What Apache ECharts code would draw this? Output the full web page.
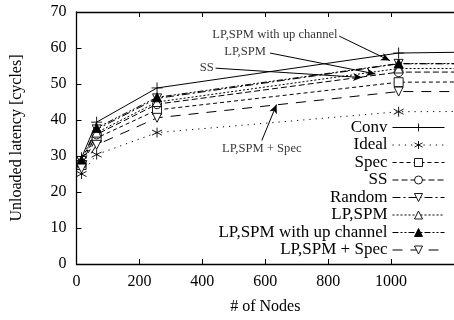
<!DOCTYPE html>
<html>
<head>
<meta charset="utf-8">
<script src="https://cdn.jsdelivr.net/npm/echarts@6/dist/echarts.min.js"></script>
<style>html,body{margin:0;padding:0;background:#fff}#c{width:454px;height:320px}</style>
</head>
<body>
<div id="c"></div>
<script>
// ---- data ----
const nodes = [16, 64, 256, 1024, 2048];
const seriesNames = ['Conv', 'Ideal', 'Spec', 'SS', 'Random', 'LP,SPM', 'LP,SPM with up channel', 'LP,SPM + Spec'];
const conv    = [29.5, 39.4, 48.9, 58.6, 59.8];
const ideal   = [25.0, 30.4, 36.5, 42.3, 42.6];
const spec    = [27.5, 35.0, 42.8, 50.5, 50.8];
const ss      = [28.0, 36.0, 44.4, 53.3, 53.4];
const random  = [28.6, 37.4, 46.0, 55.6, 55.6];
const lpspm   = [28.2, 36.5, 45.0, 54.3, 54.4];
const upChan  = [28.9, 37.8, 46.3, 55.7, 55.6];
const lpSpec  = [26.5, 33.1, 40.6, 47.9, 47.9];
const xTicks = [0, 200, 400, 600, 800, 1000, 1200];
const yTicks = [0, 10, 20, 30, 40, 50, 60, 70];
// annotations: [text, textX, textY, arrowFrom, arrowTo]
const notes = [
  ['LP,SPM with up channel', 830, 63.6, [835, 63.3], [996, 56.5]],
  ['LP,SPM', 602, 58.9, [615, 58.6], [950, 52.8]],
  ['SS', 436, 54.4, [442, 54.4], [908, 51.8]],
];
const noteBelow = ['LP,SPM + Spec', 589, 31.9, [589, 34.3], [636, 44.3]];

const valuesList = [conv, ideal, spec, ss, random, lpspm, upChan, lpSpec];
const FONT = '"Liberation Serif", "DejaVu Serif", serif';
const plus = 'path://M0,-5 L0,5 M-5,0 L5,0';
const star = 'path://M0,-5 L0,5 M-4.5,-2.6 L4.5,2.6 M-4.5,2.6 L4.5,-2.6';
const square = 'path://M-5,-5 L5,-5 L5,5 L-5,5 Z';
const circle = 'path://M-5,0 A5,5 0 1,0 5,0 A5,5 0 1,0 -5,0 Z';
const triUp = 'path://M0,-5 L5,4 L-5,4 Z';
const triDown = 'path://M0,5 L5,-4 L-5,-4 Z';
const styles = [
  {symbol: plus, size: 11, dash: 'solid', fill: '#000'},
  {symbol: star, size: 10, dash: [1.2, 5], fill: '#000'},
  {symbol: square, size: 9, dash: [4, 3], fill: '#fff'},
  {symbol: circle, size: 9, dash: [6, 3], fill: '#fff'},
  {symbol: triDown, size: 9, dash: [8, 3, 2, 3], fill: '#fff'},
  {symbol: triUp, size: 9, dash: [2, 2], fill: '#fff'},
  {symbol: triUp, size: 9, dash: [6, 2, 2, 2, 2, 2], fill: '#000'},
  {symbol: triDown, size: 9, dash: [10, 8], fill: '#fff'},
];

const series = seriesNames.map((name, i) => ({
  name: name,
  type: 'line',
  data: nodes.map((n, j) => [n, valuesList[i][j]]),
  symbol: styles[i].symbol,
  symbolSize: styles[i].size,
  showAllSymbol: true,
  lineStyle: {color: '#000', width: 1, type: styles[i].dash},
  itemStyle: {color: styles[i].fill, borderColor: '#000', borderWidth: 0.9},
  emphasis: {disabled: true},
  animation: false,
  z: 3
}));

// annotation text series
series.push({
  type: 'scatter',
  name: 'notes',
  symbolSize: 0,
  data: notes.map(n => ({value: [n[1], n[2]], name: n[0]})),
  label: {show: true, position: 'left', distance: 0, formatter: p => p.name,
          fontFamily: FONT, fontSize: 12.6, color: '#000'},
  markLine: {
    silent: true,
    symbol: ['none', 'arrow'],
    symbolSize: [6, 9],
    lineStyle: {color: '#000', width: 1, type: 'solid'},
    label: {show: false},
    data: notes.concat([noteBelow]).map(n => [{coord: n[3]}, {coord: n[4]}])
  },
  animation: false,
  z: 5
});
series.push({
  type: 'scatter',
  name: 'notes2',
  symbolSize: 0,
  data: [{value: [noteBelow[1], noteBelow[2]], name: noteBelow[0]}],
  label: {show: true, position: 'inside', formatter: p => p.name,
          fontFamily: FONT, fontSize: 12.6, color: '#000'},
  animation: false,
  z: 5
});

const chart = echarts.init(document.getElementById('c'), null, {renderer: 'canvas'});
const axisLine = {show: true, lineStyle: {color: '#000', width: 1.3}};
const plain = v => String(v);
chart.setOption({
  backgroundColor: '#fff',
  animation: false,
  grid: {left: 76.5, right: -6.5, top: 12, bottom: 56, containLabel: false},
  legend: {
    data: seriesNames,
    orient: 'vertical',
    align: 'right',
    right: 9,
    top: 119,
    padding: 0,
    itemGap: 0.5,
    itemWidth: 52,
    itemHeight: 10,
    selectedMode: false,
    lineStyle: {width: 1},
    itemStyle: {borderWidth: 0.9},
    textStyle: {fontFamily: FONT, fontSize: 17, lineHeight: 17, color: '#000'}
  },
  xAxis: [{
    type: 'value', min: xTicks[0], max: xTicks[xTicks.length - 1], interval: xTicks[1] - xTicks[0],
    name: '# of Nodes', nameLocation: 'middle', nameGap: 35,
    nameTextStyle: {fontFamily: FONT, fontSize: 16, color: '#000'},
    axisLine: axisLine,
    axisTick: {inside: true, length: 5, lineStyle: {color: '#000'}},
    axisLabel: {fontFamily: FONT, fontSize: 16, color: '#000', margin: 10, showMaxLabel: false, formatter: plain},
    splitLine: {show: false}
  }, {
    type: 'value', position: 'top', min: xTicks[0], max: xTicks[xTicks.length - 1], interval: xTicks[1] - xTicks[0],
    axisLine: axisLine,
    axisTick: {inside: true, length: 5, lineStyle: {color: '#000'}},
    axisLabel: {show: false},
    splitLine: {show: false}
  }],
  yAxis: [{
    type: 'value', min: yTicks[0], max: yTicks[yTicks.length - 1], interval: yTicks[1] - yTicks[0],
    name: 'Unloaded latency [cycles]', nameLocation: 'middle', nameGap: 52,
    nameTextStyle: {fontFamily: FONT, fontSize: 16, color: '#000'},
    axisLine: axisLine,
    axisTick: {inside: true, length: 5, lineStyle: {color: '#000'}},
    axisLabel: {fontFamily: FONT, fontSize: 16, color: '#000', margin: 10, formatter: plain},
    splitLine: {show: false}
  }],
  series: series
});
</script>
</body>
</html>
